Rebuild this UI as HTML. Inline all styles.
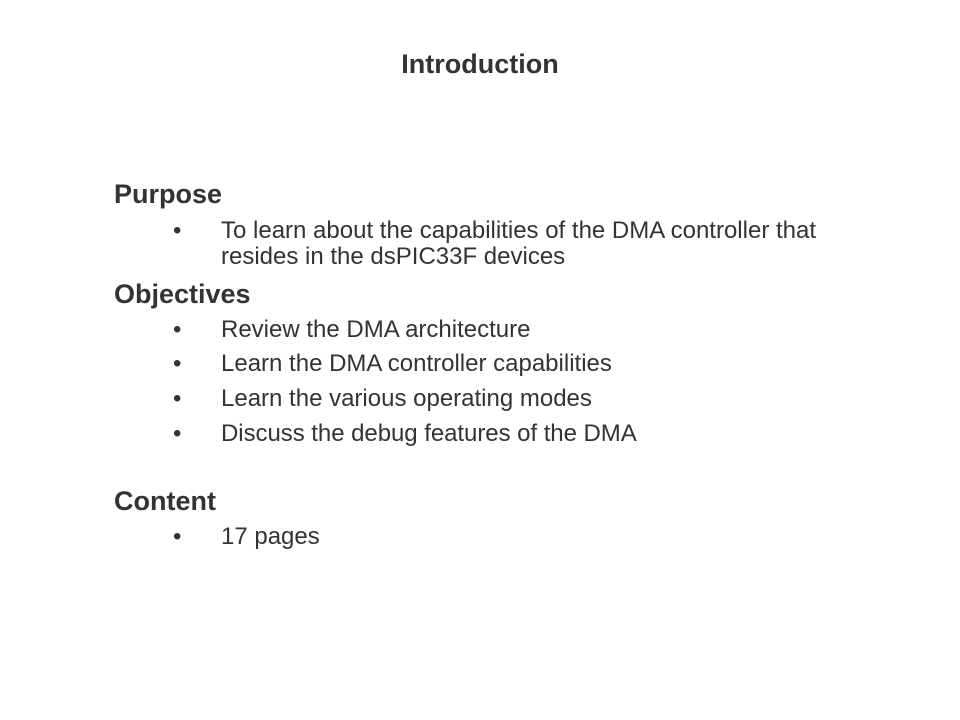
<!DOCTYPE html>
<html><head><meta charset="utf-8"><style>
html,body{margin:0;padding:0;background:#fff}
#p{position:relative;width:960px;height:720px;overflow:hidden;background:#fff;font-family:"Liberation Sans",sans-serif;color:#333}
#p div{position:absolute;white-space:nowrap}
.h{left:114px;font-size:27px;font-weight:bold;line-height:30px}
.t{left:221px;font-size:24px;line-height:26px}
.b{left:173px;font-size:24px;line-height:26px}
</style></head><body><div id="p">
<div style="left:0;width:960px;text-align:center;top:49px;font-size:27px;font-weight:bold;line-height:30px">Introduction</div>
<div class="h" style="top:179px">Purpose</div>
<div class="b" style="top:218px">•</div><div class="t" style="top:218px">To learn about the capabilities of the DMA controller that</div>
<div class="t" style="top:244px">resides in the dsPIC33F devices</div>
<div class="h" style="top:279px">Objectives</div>
<div class="b" style="top:317px">•</div><div class="t" style="top:317px">Review the DMA architecture</div>
<div class="b" style="top:351px">•</div><div class="t" style="top:351px">Learn the DMA controller capabilities</div>
<div class="b" style="top:386px">•</div><div class="t" style="top:386px">Learn the various operating modes</div>
<div class="b" style="top:421px">•</div><div class="t" style="top:421px;letter-spacing:-0.05px">Discuss the debug features of the DMA</div>
<div class="h" style="top:486px">Content</div>
<div class="b" style="top:524px">•</div><div class="t" style="top:524px">17 pages</div>
</div></body></html>
